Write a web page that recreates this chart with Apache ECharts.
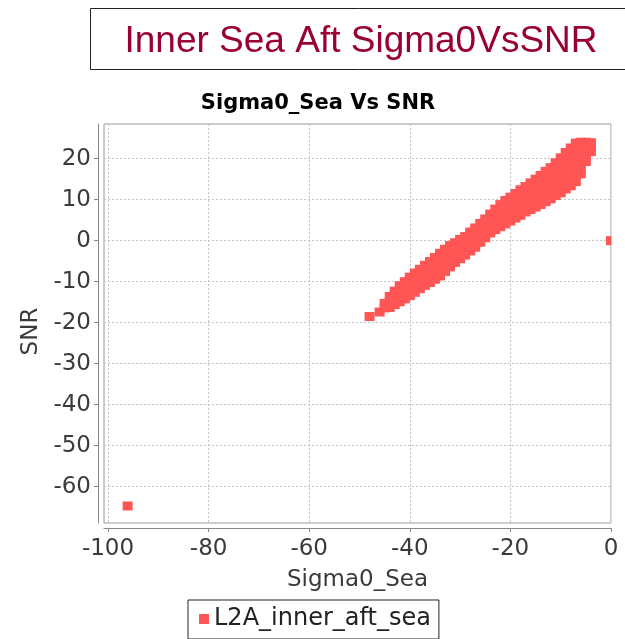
<!DOCTYPE html>
<html>
<head>
<meta charset="utf-8">
<script src="https://cdn.jsdelivr.net/npm/echarts@6/dist/echarts.min.js"></script>
<style>
html,body{margin:0;padding:0;background:#fff;}
#chart{width:625px;height:639px;}
</style>
</head>
<body>
<div id="chart"></div>
<script>
// ---- data ----
var pageTitle = 'Inner Sea Aft Sigma0VsSNR';
var chartTitle = 'Sigma0_Sea Vs SNR';
var xName = 'Sigma0_Sea';
var yName = 'SNR';
var seriesName = 'L2A_inner_aft_sea';
var xTicks = [-100, -80, -60, -40, -20, 0];
var yTicks = [-60, -50, -40, -30, -20, -10, 0, 10, 20];
// Sigma0 columns of the dense band and the SNR values seen in each column
var bandSigma0 = [-46, -45, -44, -43, -42, -41, -40, -39, -38, -37, -36, -35, -34, -33, -32, -31, -30, -29, -28, -27, -26, -25, -24, -23, -22, -21, -20, -19, -18, -17, -16, -15, -14, -13, -12, -11, -10, -9, -8, -7, -6, -5, -4];
var bandSNR = [
  [-17.4],
  [-16.4, -15.3],
  [-16.3, -15.0, -13.6],
  [-15.6, -14.6, -13.3, -12.3],
  [-14.9, -13.7, -12.2, -11.0],
  [-14.2, -12.9, -11.3, -10.0],
  [-13.4, -12.0, -10.3, -8.9],
  [-12.6, -11.6, -10.3, -8.9, -7.9],
  [-11.7, -10.7, -9.4, -8.0, -7.0],
  [-10.9, -9.8, -8.5, -7.1, -6.0],
  [-10.2, -9.1, -7.7, -6.2, -5.1],
  [-9.4, -8.2, -6.8, -5.3, -4.1],
  [-8.6, -7.4, -5.9, -4.3, -3.1],
  [-7.5, -6.3, -4.8, -3.3, -2.1],
  [-6.4, -5.2, -3.8, -2.3, -1.2],
  [-5.3, -4.3, -2.9, -1.6, -0.5],
  [-4.4, -3.4, -2.1, -0.7, 0.3],
  [-3.5, -2.1, -0.4, 1.0],
  [-2.5, -1.1, 0.7, 2.1],
  [-1.6, -0.6, 0.8, 2.1, 3.1],
  [-0.4, 0.6, 1.9, 3.2, 4.2],
  [0.7, 1.7, 3.0, 4.3, 5.3],
  [1.9, 2.9, 4.2, 5.5, 6.5],
  [2.7, 3.8, 5.2, 6.6, 7.7],
  [3.4, 4.6, 6.1, 7.6, 8.8],
  [4.1, 5.4, 6.9, 8.5, 9.8],
  [4.8, 6.1, 7.7, 9.3, 10.6],
  [5.5, 6.9, 8.5, 10.2, 11.5],
  [6.2, 7.6, 9.3, 11.0, 12.4],
  [7.0, 8.4, 10.1, 11.8, 13.2],
  [7.6, 8.7, 10.1, 11.6, 13.0, 14.1],
  [8.2, 9.4, 10.9, 12.3, 13.8, 15.0],
  [8.8, 10.0, 11.6, 13.1, 14.7, 15.9],
  [9.5, 10.8, 12.4, 14.0, 15.6, 16.9],
  [10.2, 11.5, 13.2, 14.8, 16.5, 17.8],
  [11.0, 12.4, 14.2, 15.9, 17.6, 19.0],
  [11.7, 12.9, 14.4, 16.0, 17.5, 19.0, 20.2],
  [12.6, 13.9, 15.5, 17.1, 18.6, 20.2, 21.5],
  [13.4, 14.7, 16.4, 18.0, 19.6, 21.3, 22.6],
  [14.4, 15.8, 17.4, 19.1, 20.7, 22.4, 23.8],
  [16.3, 17.6, 19.2, 20.9, 22.5, 24.0],
  [19.3, 20.7, 22.4, 24.0],
  [21.7, 22.8, 23.9]
];
var outlierSigma0 = [-96.1, -48.0, 0];
var outlierSNR = [-64.7, -18.5, 0];

// ---- build point table ----
var points = [];
bandSigma0.forEach(function (x, i) {
  bandSNR[i].forEach(function (y) { points.push([x, y]); });
});
outlierSigma0.forEach(function (x, i) { points.push([x, outlierSNR[i]]); });

var FONT = 'DejaVu Sans';
var chart = echarts.init(document.getElementById('chart'), null, {renderer: 'canvas'});
chart.setOption({
  animation: false,
  backgroundColor: '#ffffff',
  title: [{
    text: pageTitle,
    left: 356, top: 18, textAlign: 'center',
    textStyle: {fontFamily: 'Liberation Sans', fontSize: 37, fontWeight: 'normal', color: '#990033'}
  }, {
    text: chartTitle,
    left: 313, top: 88, textAlign: 'center',
    textStyle: {fontFamily: FONT, fontSize: 21, fontWeight: 'bold', color: '#000000'}
  }],
  graphic: [{
    type: 'rect', silent: true,
    shape: {x: 90.5, y: 8.5, width: 560, height: 61},
    style: {fill: 'none', stroke: '#222222', lineWidth: 1}
  }, {
    // mask so marks overflowing the plot's right edge are cut like the original
    type: 'rect', silent: true, z: 100,
    shape: {x: 611.6, y: 124, width: 20, height: 400},
    style: {fill: '#ffffff'}
  }],
  grid: {
    left: 104, top: 124, width: 507, height: 399,
    show: true, borderColor: '#9a9a9a', borderWidth: 1, backgroundColor: '#ffffff'
  },
  xAxis: {
    type: 'value', min: -100.8, max: 0, offset: 5,
    name: xName, nameLocation: 'middle', nameGap: 41,
    nameTextStyle: {fontFamily: FONT, fontSize: 23, color: '#3a3a3a'},
    axisLine: {show: true, onZero: false, lineStyle: {color: '#888888'}},
    axisTick: {show: true, length: 4, customValues: xTicks, lineStyle: {color: '#888888'}},
    axisLabel: {customValues: xTicks, margin: 10, fontFamily: FONT, fontSize: 23, color: '#3a3a3a'},
    splitLine: {show: true, lineStyle: {color: '#c4c4c4', type: [2, 2]}}
  },
  yAxis: {
    type: 'value', min: -68.85, max: 28.45, offset: 6,
    name: yName, nameLocation: 'middle', nameGap: 47,
    nameTextStyle: {fontFamily: FONT, fontSize: 23, color: '#3a3a3a', padding: [0, 16, 0, 0]},
    axisLine: {show: true, onZero: false, lineStyle: {color: '#888888'}},
    axisTick: {show: true, length: 4, customValues: yTicks, lineStyle: {color: '#888888'}},
    axisLabel: {customValues: yTicks, margin: 7, fontFamily: FONT, fontSize: 23, color: '#3a3a3a'},
    splitLine: {show: true, lineStyle: {color: '#c4c4c4', type: [2, 2]}}
  },
  legend: {
    left: 188, top: 600,
    data: [seriesName],
    icon: 'rect', itemWidth: 10, itemHeight: 10, itemGap: 0,
    padding: [7, 8, 8, 11],
    borderColor: '#222222', borderWidth: 1,
    textStyle: {fontFamily: FONT, fontSize: 24, color: '#222222'}
  },
  series: [{
    name: seriesName, type: 'scatter',
    symbol: 'rect', symbolSize: [10, 9],
    itemStyle: {color: '#ff5555', opacity: 1},
    clip: true,
    data: points
  }]
});
</script>
</body>
</html>
